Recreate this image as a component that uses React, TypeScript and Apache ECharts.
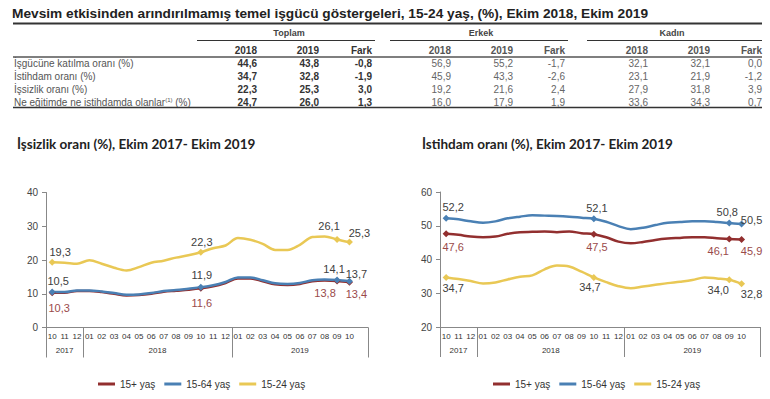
import React, { useEffect, useRef } from 'react';
import * as echarts from 'echarts';

// ---------- data ----------
const tableTitle = 'Mevsim etkisinden arındırılmamış temel işgücü göstergeleri, 15-24 yaş, (%), Ekim 2018, Ekim 2019';
const rowLabels = [
  'İşgücüne katılma oranı (%)',
  'İstihdam oranı (%)',
  'İşsizlik oranı (%)',
  'Ne eğitimde ne istihdamda olanlar{sup|(1)} (%)',
];
const groupNames = ['Toplam', 'Erkek', 'Kadın'];
const colHeaders = ['2018', '2019', 'Fark'];
const toplam2018 = [44.6, 34.7, 22.3, 24.7];
const toplam2019 = [43.8, 32.8, 25.3, 26.0];
const toplamFark = [-0.8, -1.9, 3.0, 1.3];
const erkek2018 = [56.9, 45.9, 19.2, 16.0];
const erkek2019 = [55.2, 43.3, 21.6, 17.9];
const erkekFark = [-1.7, -2.6, 2.4, 1.9];
const kadin2018 = [32.1, 23.1, 27.9, 33.6];
const kadin2019 = [32.1, 21.9, 31.8, 34.3];
const kadinFark = [0.0, -1.2, 3.9, 0.7];

const chartTitles = ['İşsizlik oranı (%), Ekim 2017- Ekim 2019', 'İstihdam oranı (%), Ekim 2017- Ekim 2019'];
const months = ['10', '11', '12', '01', '02', '03', '04', '05', '06', '07', '08', '09', '10', '11', '12', '01', '02', '03', '04', '05', '06', '07', '08', '09', '10', ''];
const yearLabels = ['2017', '2018', '2019'];
const yearCenters = [1.5, 9, 20.5];
const yearBounds = [0, 3, 15, 26];
const seriesNames = ['15+ yaş', '15-64 yaş', '15-24 yaş'];
const labeledIdx = [0, 12, 23, 24];

const unemp15plus = [10.3, 10.3, 10.8, 10.8, 10.5, 10.0, 9.5, 9.6, 10.0, 10.6, 10.9, 11.2, 11.6, 12.2, 13.2, 14.5, 14.5, 13.7, 12.8, 12.6, 12.9, 13.7, 13.9, 13.8, 13.4];
const unemp15_64 = [10.5, 10.5, 11.0, 11.0, 10.7, 10.2, 9.7, 9.8, 10.2, 10.8, 11.1, 11.5, 11.9, 12.5, 13.5, 14.8, 14.8, 14.0, 13.1, 12.9, 13.2, 14.0, 14.2, 14.1, 13.7];
const unemp15_24 = [19.3, 19.2, 18.9, 19.9, 18.9, 17.7, 16.9, 17.9, 19.2, 19.8, 20.7, 21.4, 22.3, 23.5, 24.3, 26.5, 26.0, 24.8, 23.0, 23.0, 24.5, 26.8, 27.0, 26.1, 25.3];

const emp15plus = [47.6, 47.3, 46.8, 46.6, 46.8, 47.6, 48.1, 48.2, 48.3, 48.1, 48.3, 47.8, 47.5, 46.6, 45.3, 44.8, 45.2, 45.8, 46.2, 46.4, 46.6, 46.6, 46.3, 46.1, 45.9];
const emp15_64 = [52.2, 51.9, 51.3, 50.9, 51.3, 52.2, 52.7, 53.1, 53.0, 52.9, 52.7, 52.4, 52.1, 51.2, 49.9, 49.0, 49.4, 50.2, 50.9, 51.1, 51.3, 51.3, 51.1, 50.8, 50.5];
const emp15_24 = [34.7, 34.2, 33.6, 32.9, 33.2, 34.1, 34.9, 35.3, 37.1, 38.2, 37.9, 36.4, 34.7, 33.3, 32.1, 31.5, 32.0, 32.5, 33.0, 33.4, 33.9, 34.7, 34.4, 34.0, 32.8];

// ---------- styles ----------
const FONT = 'Liberation Sans, Arial, sans-serif';
const TITLE_FONT = 'Lato, "Open Sans", sans-serif';
const colors = ['#922F2F', '#4A80B4', '#E9C855'];
const darkLabel = '#404040';
const redLabel = '#9A4A4A';

const fmt = (v: number) => v.toFixed(1).replace('.', ',');

function buildData(values: number[], offsets: number[][], labelColor: string) {
  return values.map((v, i) => {
    const k = labeledIdx.indexOf(i);
    if (k < 0) return { value: v, symbolSize: 0 };
    return {
      value: v,
      symbol: 'diamond',
      symbolSize: 7,
      label: {
        show: true,
        position: 'inside',
        offset: offsets[k],
        color: labelColor,
        fontSize: 11,
        fontFamily: FONT,
        textBorderWidth: 0,
        formatter: (p: any) => fmt(p.value),
      },
    };
  });
}

function lineSeries(name: string, color: string, data: any[], xi: number, yi: number) {
  return {
    type: 'line',
    name,
    xAxisIndex: xi,
    yAxisIndex: yi,
    smooth: 0.35,
    symbol: 'diamond',
    showSymbol: true,
    itemStyle: { color },
    lineStyle: { color, width: 2.5 },
    emphasis: { disabled: true },
    data,
  };
}

function buildTable() {
  const els: any[] = [];
  els.push({ type: 'text', x: 12, y: 13, style: { text: tableTitle, fontFamily: FONT, fontWeight: 'bold', fontSize: 13.7, fill: '#222', align: 'left', verticalAlign: 'middle' } });
  els.push({ type: 'line', shape: { x1: 13, y1: 23.5, x2: 762, y2: 23.5 }, style: { stroke: '#333', lineWidth: 2 } });
  const groupCenters = [289, 481, 672];
  const groupLines = [[197, 375], [390, 568], [587, 762]];
  const colRights = [[257, 319, 372], [451, 513, 565], [648, 710, 762]];
  const groupData = [
    [toplam2018, toplam2019, toplamFark],
    [erkek2018, erkek2019, erkekFark],
    [kadin2018, kadin2019, kadinFark],
  ];
  const rowY = [63.5, 76.5, 89.5, 102.5];
  groupNames.forEach((g, gi) => {
    els.push({ type: 'text', x: groupCenters[gi], y: 33, style: { text: g, fontFamily: FONT, fontWeight: 'bold', fontSize: 9, fill: '#444', align: 'center', verticalAlign: 'middle' } });
    els.push({ type: 'line', shape: { x1: groupLines[gi][0], y1: 40.5, x2: groupLines[gi][1], y2: 40.5 }, style: { stroke: '#333', lineWidth: 1 } });
    colHeaders.forEach((h, ci) => {
      els.push({ type: 'text', x: colRights[gi][ci], y: 50, style: { text: h, fontFamily: FONT, fontWeight: 'bold', fontSize: 10, fill: gi === 0 ? '#333' : '#555', align: 'right', verticalAlign: 'middle' } });
      groupData[gi][ci].forEach((v, ri) => {
        els.push({ type: 'text', x: colRights[gi][ci], y: rowY[ri], style: { text: fmt(v), fontFamily: FONT, fontWeight: gi === 0 ? 'bold' : 'normal', fontSize: 10, fill: gi === 0 ? '#333' : '#666', align: 'right', verticalAlign: 'middle' } });
      });
    });
  });
  els.push({ type: 'line', shape: { x1: 13, y1: 57, x2: 762, y2: 57 }, style: { stroke: '#555', lineWidth: 1.5 } });
  rowLabels.forEach((r, ri) => {
    els.push({ type: 'text', x: 14, y: rowY[ri], style: { text: r, fontFamily: FONT, fontSize: 10, fill: '#555', align: 'left', verticalAlign: 'middle', rich: { sup: { fontSize: 6, fontFamily: FONT, fill: '#555', padding: [0, 0, 6, 0] } } } });
  });
  els.push({ type: 'line', shape: { x1: 13, y1: 107.5, x2: 762, y2: 107.5 }, style: { stroke: '#333', lineWidth: 1.5 } });
  return els;
}

function xAxes(gridIndex: number) {
  return [
    {
      type: 'category',
      gridIndex,
      position: 'bottom',
      data: months,
      boundaryGap: true,
      axisLine: { show: true, onZero: false, lineStyle: { color: '#888', width: 1 } },
      axisTick: { show: false },
      axisLabel: { interval: 0, fontSize: 8, color: '#333', margin: 5, fontFamily: FONT },
      splitLine: { show: false },
    },
    {
      type: 'value',
      gridIndex,
      position: 'bottom',
      min: 0,
      max: 26,
      axisLine: { show: false, onZero: false },
      axisTick: { show: true, customValues: yearBounds, length: 30, lineStyle: { color: '#888', width: 1 } },
      axisLabel: {
        show: true,
        customValues: yearCenters,
        margin: 19,
        fontSize: 8,
        color: '#333',
        fontFamily: FONT,
        formatter: (v: number) => {
          const k = yearCenters.indexOf(v);
          return k >= 0 ? yearLabels[k] : '';
        },
      },
      splitLine: { show: false },
    },
  ];
}

function yAxis(gridIndex: number, min: number, max: number) {
  return {
    type: 'value',
    gridIndex,
    min,
    max,
    interval: 10,
    axisLine: { show: true, onZero: false, lineStyle: { color: '#888', width: 1 } },
    axisTick: { show: true, length: 4, lineStyle: { color: '#888' } },
    axisLabel: { fontSize: 10, color: '#444', margin: 8, fontFamily: FONT },
    splitLine: { show: false },
  };
}

function legend(left: number) {
  return {
    data: seriesNames,
    left,
    top: 379,
    icon: 'rect',
    itemWidth: 17,
    itemHeight: 3,
    itemGap: 9,
    padding: 0,
    textStyle: { fontSize: 10, color: '#333', fontFamily: FONT },
  };
}

export default function App() {
  const ref = useRef<HTMLDivElement>(null);
  useEffect(() => {
    if (!ref.current) return;
    const chart = echarts.init(ref.current, null, { renderer: 'svg' });
    const titleStyle = { fontFamily: TITLE_FONT, fontWeight: 'bold', fontSize: 13.5, color: '#222' };
    const option: any = {
      animation: false,
      backgroundColor: '#fff',
      textStyle: { fontFamily: FONT },
      title: [
        { text: chartTitles[0], left: 17, top: 137, padding: 0, textStyle: titleStyle },
        { text: chartTitles[1], left: 422, top: 137, padding: 0, textStyle: titleStyle },
      ],
      legend: [legend(98), legend(493)],
      grid: [
        { left: 46, top: 192.5, width: 322, height: 135 },
        { left: 440, top: 192, width: 320, height: 135 },
      ],
      xAxis: [...xAxes(0), ...xAxes(1)],
      yAxis: [yAxis(0, 0, 40), yAxis(1, 20, 60)],
      series: [
        lineSeries(seriesNames[0], colors[0], buildData(unemp15plus, [[7, 15], [1, 15], [-12, 12], [7, 12]], redLabel), 0, 0),
        lineSeries(seriesNames[1], colors[1], buildData(unemp15_64, [[6, -11], [1, -12], [-3, -11], [7, -7]], darkLabel), 0, 0),
        lineSeries(seriesNames[2], colors[2], buildData(unemp15_24, [[8, -10], [1, -10], [-8, -13], [10, -9]], darkLabel), 0, 0),
        lineSeries(seriesNames[0], colors[0], buildData(emp15plus, [[7, 13], [3, 13], [-11, 12], [10, 11]], redLabel), 2, 1),
        lineSeries(seriesNames[1], colors[1], buildData(emp15_64, [[7, -11], [3, -11], [-2, -11], [10, -4]], darkLabel), 2, 1),
        lineSeries(seriesNames[2], colors[2], buildData(emp15_24, [[7, 11], [-4, 10], [-11, 10], [10, 10]], darkLabel), 2, 1),
      ],
      graphic: { elements: buildTable() },
    };
    chart.setOption(option);
    return () => chart.dispose();
  }, []);
  return <div ref={ref} style={{ position: 'absolute', left: 0, top: 0, width: 770, height: 399 }} />;
}
